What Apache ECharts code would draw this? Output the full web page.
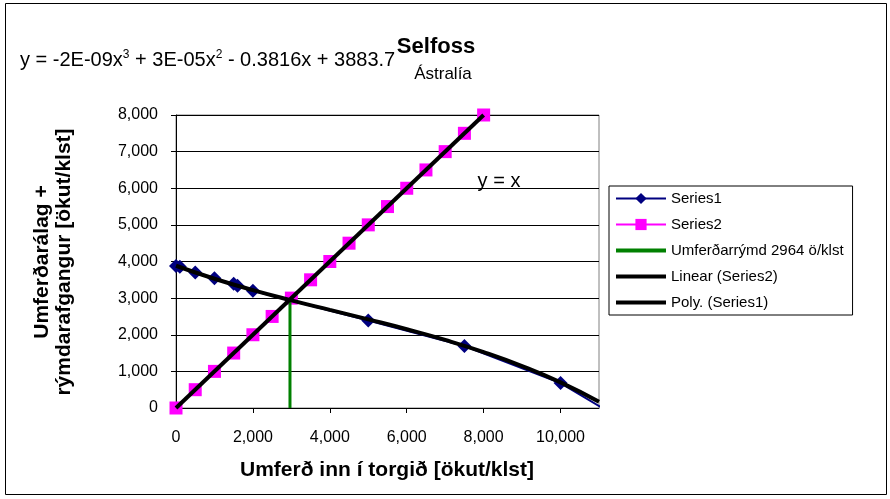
<!DOCTYPE html>
<html>
<head>
<meta charset="utf-8">
<script src="https://cdn.jsdelivr.net/npm/echarts@6/dist/echarts.min.js"></script>
<style>html,body{margin:0;padding:0;background:#fff;}#c{width:890px;height:499px;}</style>
</head>
<body>
<div id="c"></div>
<script>
// ---- data ----
const xTickValues = [0, 2000, 4000, 6000, 8000, 10000];
const series1X = [0, 100, 500, 1000, 1500, 1600, 2000, 5000, 7500, 10000, 11150];
const series1Y = [3880, 3860, 3700, 3540, 3390, 3340, 3200, 2390, 1690, 680, -40];
const series2X = [0, 500, 1000, 1500, 2000, 2500, 3000, 3500, 4000, 4500, 5000, 5500, 6000, 6500, 7000, 7500, 8000];
const series2Y = [0, 500, 1000, 1500, 2000, 2500, 3000, 3500, 4000, 4500, 5000, 5500, 6000, 6500, 7000, 7500, 8000];
const capacityX = [2964, 2964];
const capacityY = [0, 2900];
const linearX = [0, 8000];
const linearY = [0, 8000];
const polyX = [0, 1000, 2000, 3000, 4000, 5000, 6000, 7000, 8000, 9000, 10000, 11000];
const polyY = [3884, 3529, 3219, 2940, 2678, 2419, 2151, 1858, 1527, 1145, 700, 171];
const seriesNames = ['Series1', 'Series2', 'Umferðarrýmd 2964 ö/klst', 'Linear (Series2)', 'Poly. (Series1)'];

const zip = (xs, ys) => xs.map((x, i) => [x, ys[i]]);
const fmt = v => v.toLocaleString('en-US');
const FONT = 'Liberation Sans, Arial, sans-serif';
const thickLineIcon = 'path://M0,0L50,0L50,4L0,4Z';

const s1Data = zip(series1X, series1Y).map((p, i) =>
  i === series1X.length - 1 ? { value: p, symbol: 'none' } : p);

const chart = echarts.init(document.getElementById('c'), null, { renderer: 'canvas' });
chart.setOption({
  animation: false,
  backgroundColor: '#fff',
  textStyle: { fontFamily: FONT },
  grid: { left: 176, top: 115, right: 291, bottom: 91, show: true, borderColor: '#808080', borderWidth: 1, backgroundColor: 'transparent' },
  xAxis: {
    type: 'value', min: 0, max: 11000, interval: 2000,
    axisLine: { show: true, lineStyle: { color: '#000', width: 1 } },
    axisTick: { show: true, inside: false, length: 5, lineStyle: { color: '#000' }, customValues: xTickValues },
    axisLabel: { color: '#000', fontSize: 16, fontFamily: FONT, margin: 22, formatter: fmt, customValues: xTickValues },
    splitLine: { show: false }
  },
  yAxis: {
    type: 'value', min: 0, max: 8000, interval: 1000,
    axisLine: { show: true, lineStyle: { color: '#000', width: 1 } },
    axisTick: { show: true, inside: false, length: 5, lineStyle: { color: '#000' } },
    axisLabel: { color: '#000', fontSize: 16, fontFamily: FONT, margin: 18, formatter: fmt },
    splitLine: { show: true, lineStyle: { color: '#000', width: 1 } }
  },
  legend: {
    orient: 'vertical', left: 609, top: 186,
    padding: [5, 9, 5, 6], itemGap: 11, itemWidth: 50, itemHeight: 14,
    borderColor: '#000', borderWidth: 1, backgroundColor: '#fff',
    textStyle: { color: '#000', fontSize: 15, fontFamily: FONT },
    data: [
      { name: seriesNames[0] },
      { name: seriesNames[1] },
      { name: seriesNames[2], icon: thickLineIcon },
      { name: seriesNames[3], icon: thickLineIcon },
      { name: seriesNames[4], icon: thickLineIcon }
    ]
  },
  series: [
    {
      name: seriesNames[0], type: 'line', data: s1Data, clip: false, z: 2,
      symbol: 'diamond', symbolSize: 14,
      lineStyle: { color: '#000080', width: 2 }, itemStyle: { color: '#000080' }
    },
    {
      name: seriesNames[1], type: 'line', data: zip(series2X, series2Y), z: 2,
      symbol: 'rect', symbolSize: 13,
      lineStyle: { color: '#FF00FF', width: 1 }, itemStyle: { color: '#FF00FF' }
    },
    {
      name: seriesNames[2], type: 'line', data: zip(capacityX, capacityY), z: 3,
      symbol: 'none', lineStyle: { color: '#008000', width: 3 }, itemStyle: { color: '#008000' }
    },
    {
      name: seriesNames[3], type: 'line', data: zip(linearX, linearY), z: 4,
      symbol: 'none', lineStyle: { color: '#000', width: 4 }, itemStyle: { color: '#000' }
    },
    {
      name: seriesNames[4], type: 'line', data: zip(polyX, polyY), z: 4, smooth: true,
      symbol: 'none', lineStyle: { color: '#000', width: 4 }, itemStyle: { color: '#000' }
    }
  ],
  graphic: [
    { type: 'rect', z: 0, silent: true, shape: { x: 5.5, y: 3.5, width: 881, height: 491 }, style: { fill: 'none', stroke: '#000', lineWidth: 1 } },
    { type: 'text', z: 10, x: 20, y: 60, style: {
        text: 'y = -2E-09x{s|3} + 3E-05x{s|2} - 0.3816x + 3883.7',
        font: '20px ' + FONT, fill: '#000', verticalAlign: 'middle', align: 'left',
        rich: { s: { fontSize: 12, fontFamily: FONT, fill: '#000', padding: [0, 0, 10, 0] } }
      } },
    { type: 'text', z: 11, x: 436, y: 47, style: { text: 'Selfoss', font: 'bold 22px ' + FONT, fill: '#000', align: 'center', verticalAlign: 'middle' } },
    { type: 'text', z: 11, x: 443, y: 74, style: { text: 'Ástralía', font: '17px ' + FONT, fill: '#000', align: 'center', verticalAlign: 'middle' } },
    { type: 'text', z: 11, x: 499, y: 181, style: { text: 'y = x', font: '20px ' + FONT, fill: '#000', align: 'center', verticalAlign: 'middle' } },
    { type: 'text', z: 11, x: 53, y: 262, rotation: Math.PI / 2, style: { text: 'Umferðarálag +\nrýmdarafgangur [ökut/klst]', font: 'bold 21px ' + FONT, lineHeight: 22, fill: '#000', align: 'center', verticalAlign: 'middle' } },
    { type: 'text', z: 11, x: 387, y: 470, style: { text: 'Umferð inn í torgið [ökut/klst]', font: 'bold 21px ' + FONT, fill: '#000', align: 'center', verticalAlign: 'middle' } }
  ]
});
</script>
</body>
</html>
